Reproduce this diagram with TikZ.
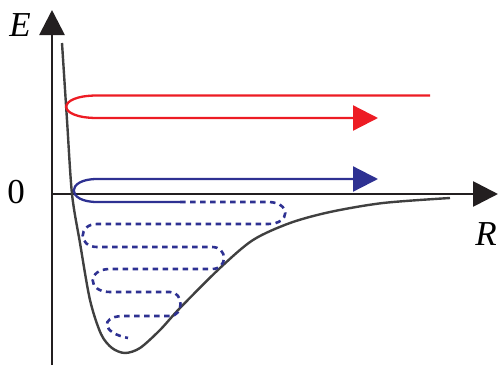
\documentclass[tikz,border=0pt]{standalone}
\usepackage{fontspec}
\setmainfont{Liberation Serif}
\usepackage{tikz}
\usetikzlibrary{arrows.meta}

\definecolor{trajred}{HTML}{ED1C24}
\definecolor{trajblue}{HTML}{2E3192}
\definecolor{curvegray}{HTML}{404040}
\definecolor{axisblack}{HTML}{231F20}

\begin{document}
\begin{tikzpicture}[x=1pt,y=-1pt,
    axis/.style={axisblack,line width=2.8pt,-{Triangle[length=25pt,width=25pt]}},
    axislabel/.style={font=\fontsize{35}{35}\selectfont, inner sep=0pt},
    potential/.style={curvegray,line width=2.4pt},
    trajectory/.style={line width=2.3pt,-{Triangle[length=25pt,width=25pt]}},
    bound/.style={trajblue,line width=2.6pt,dash pattern=on 5.5pt off 4.5pt}]
  \useasboundingbox (0,0) rectangle (499,365);

  % axes
  \coordinate (O) at (52,194);
  \coordinate (Ebot) at (52,365);
  \coordinate (Etip) at (52,10);
  \coordinate (Rtip) at (498,194);
  \draw[axis] (Ebot) -- (Etip);
  \draw[axis] (O) -- (Rtip);
  \node[axislabel] (Elabel) at (20,25) {\textit{E}};
  \node[axislabel] (zero) at (16,192) {0};
  \node[axislabel] (Rlabel) at (486,234) {\textit{R}};

  % potential well
  \draw[potential] plot[smooth] coordinates {(62,43) (67,120) (72,194)
    (80,243) (90,300) (101,334) (112,348) (125,353) (140,348) (160,330)
    (180,308) (220,268) (253,240) (290,223) (330,212) (383,203) (450,198)};

  % unbound (scattering) trajectory
  \draw[trajectory,trajred] (430,95.5) -- (97,95.5)
    .. controls (56,95.5) and (56,118) .. (97,118) -- (378,118);

  % quasi-bound trajectory
  \coordinate (split) at (180,202);
  \draw[trajectory,trajblue] (split) -- (97,202)
    .. controls (66,202) and (66,179) .. (97,179) -- (378,179);

  % bound oscillation
  \draw[bound] (split) -- (268,202)
    .. controls (291,202) and (291,224) .. (268,224) -- (97,224)
    .. controls (78,224) and (78,247) .. (97,247) -- (212,247)
    .. controls (228,247) and (228,269) .. (212,269) -- (110,269)
    .. controls (87,269) and (87,292) .. (110,292) -- (170,292)
    .. controls (184,292) and (184,316) .. (170,316) -- (122,316)
    .. controls (100,317) and (102,333) .. (128,338);
\end{tikzpicture}
\end{document}
